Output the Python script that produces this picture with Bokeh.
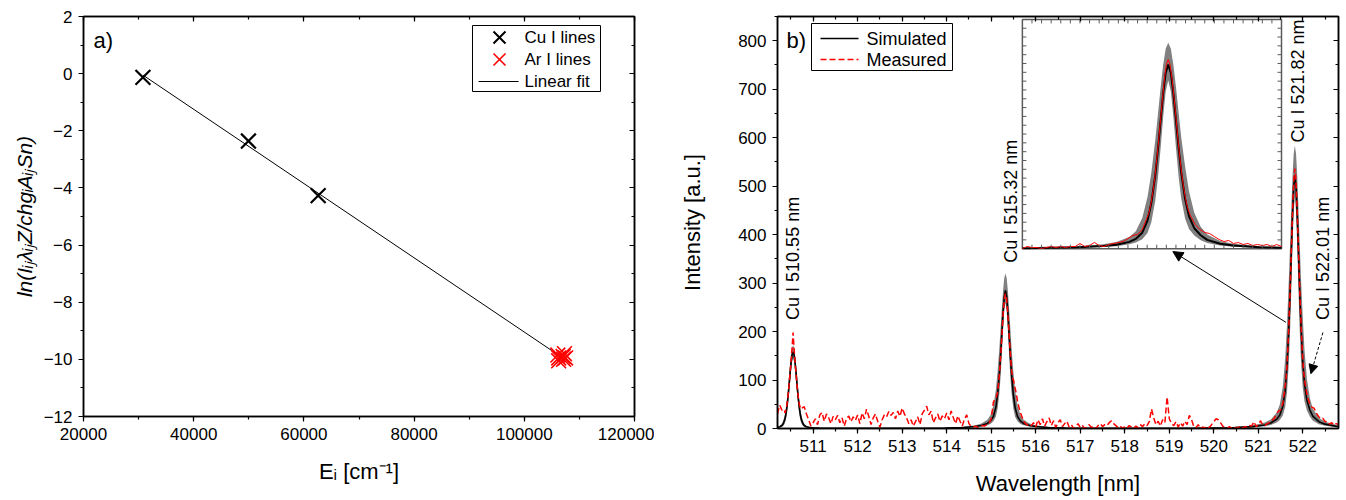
import numpy as np
from bokeh.plotting import figure
from bokeh.models import (Range1d, LinearAxis, SingleIntervalTicker, BasicTickFormatter,
                          Arrow, NormalHead, CustomLabelingPolicy)
from bokeh.layouts import row
from bokeh.core.properties import value
from bokeh.embed import file_html
from bokeh.resources import INLINE

FONT = "Liberation Sans"

# ---------------- panel a) data ----------------
cu_energy = [30784, 49935, 62590]
cu_lnval = [-0.13, -2.36, -4.27]
ar_energy = [106087, 106238, 106238, 107054, 107132, 107290, 107496]
ar_lnval = [-9.85, -9.95, -10.05, -9.90, -10.00, -9.80, -9.95]
legend_a = ["Cu I lines", "Ar I lines", "Linear fit"]

# ---------------- panel b) data ----------------
sim_wl = [510.197, 510.256, 510.315, 510.362, 510.385, 510.409, 510.432, 510.456, 510.479, 510.503,
          510.526, 510.55, 510.574, 510.597, 510.621, 510.644, 510.668, 510.691, 510.715, 510.738,
          510.785, 510.844, 510.903, 510.962, 511.02, 511.14, 511.37, 511.73,
          512.6, 513.4,
          513.967, 514.373, 514.643, 514.779, 514.914, 514.982, 515.049, 515.104, 515.144, 515.185,
          515.212, 515.239, 515.266, 515.293, 515.32, 515.347, 515.374, 515.401, 515.428, 515.455,
          515.496, 515.536, 515.591, 515.658, 515.726, 515.861, 515.997, 516.267, 516.673,
          517.5, 518.5, 519.5, 520.3,
          520.467, 520.873, 521.143, 521.279, 521.414, 521.482, 521.549, 521.604, 521.644, 521.685,
          521.712, 521.739, 521.766, 521.793, 521.82, 521.847, 521.874, 521.901, 521.928, 521.955,
          521.996, 522.036, 522.091, 522.158, 522.226, 522.361, 522.497, 522.767, 523.0, 523.173]
sim_int = [2.4, 3.6, 7.6, 17.9, 27.8, 42.3, 61.6, 85.2, 110.6, 134.3,
           151.5, 158, 151.5, 134.3, 110.6, 85.2, 61.6, 42.3, 27.8, 17.9,
           7.6, 3.6, 2.4, 1.7, 1.4, 0.9, 0.5, 0.2,
           0.2, 0.5,
           1.0, 2.1, 4.0, 6.2, 10.5, 15.1, 24.8, 43.6, 71.0, 114.3,
           152.8, 196.1, 238.8, 272.2, 285, 272.2, 238.8, 196.1, 152.8, 114.3,
           71.0, 43.6, 24.8, 15.1, 10.5, 6.2, 4.0, 2.1, 1.0,
           0.4, 0.3, 0.6, 1.3,
           1.9, 3.8, 7.3, 11.3, 19.3, 27.7, 45.4, 79.9, 130.0, 209.3,
           279.8, 359.1, 437.4, 498.5, 522, 498.5, 438.4, 362.1, 284.8, 216.3,
           140, 92, 58, 38, 25, 14, 9, 4, 2.8, 2]
sim_hi = [3.5, 5.5, 12, 27, 40, 57, 79, 103, 128, 150,
          166, 172, 166, 150, 128, 103, 79, 57, 40, 27,
          12, 5.5, 3.5, 2.5, 2.0, 1.3, 0.7, 0.3,
          0.3, 0.8,
          1.8, 3.5, 6.7, 10.3, 18.0, 27.1, 47.5, 80.2, 118.5, 169.3,
          208.2, 248.2, 284.5, 310.4, 320, 310.4, 284.5, 248.2, 208.2, 169.3,
          118.5, 80.2, 47.5, 27.1, 18.0, 10.3, 6.7, 3.5, 1.8,
          0.7, 0.5, 1.0, 2.2,
          3.2, 6.4, 12.3, 18.8, 32.9, 49.5, 86.7, 146.3, 216.2, 308.9,
          380.0, 453.0, 519.1, 566.5, 584, 566.5, 520, 456, 385, 316,
          232, 163, 102, 62, 40, 22, 14, 7, 4.8, 3.5]
sim_lo = [1.4, 2.0, 4, 10, 17, 28, 45, 67, 92, 117,
          137, 145, 137, 117, 92, 67, 45, 28, 17, 10,
          4, 2.0, 1.4, 1.0, 0.8, 0.5, 0.3, 0.1,
          0.1, 0.2,
          0.7, 1.3, 2.5, 3.9, 6.7, 9.5, 14.7, 24.4, 41.1, 74.3,
          108.9, 153.0, 201.7, 243.0, 260, 243.0, 201.7, 153.0, 108.9, 74.3,
          41.1, 24.4, 14.7, 9.5, 6.7, 3.9, 2.5, 1.3, 0.7,
          0.2, 0.1, 0.3, 0.8,
          1.2, 2.4, 4.6, 7.1, 12.3, 17.4, 26.9, 44.7, 75.5, 136.4,
          199.9, 280.8, 370.0, 445.9, 477, 445.9, 371, 283.5, 204, 142,
          85, 56, 37, 24, 16, 9, 5.8, 2.8, 1.9, 1.4]

meas_wl = [510.20, 510.25, 510.30,
           510.35, 510.37, 510.39, 510.41, 510.43, 510.45, 510.47, 510.49, 510.51, 510.53, 510.55,
           510.57, 510.59, 510.61, 510.63, 510.65, 510.67, 510.69, 510.71, 510.73, 510.75,
           510.80, 510.85, 510.90, 510.95, 511.00, 511.05, 511.10, 511.15, 511.20, 511.25,
           511.30, 511.35, 511.40, 511.45, 511.50, 511.55, 511.60, 511.65, 511.70, 511.75,
           511.80, 511.85, 511.90, 511.95, 512.00, 512.05, 512.10, 512.15, 512.20, 512.25,
           512.30, 512.35, 512.40, 512.45, 512.50, 512.55, 512.60, 512.65, 512.70, 512.75,
           512.80, 512.85, 512.90, 512.95, 513.00, 513.05, 513.10, 513.15, 513.20, 513.25,
           513.30, 513.35, 513.40, 513.45, 513.50, 513.55, 513.60, 513.65, 513.70, 513.75,
           513.80, 513.85, 513.90, 513.95, 514.00, 514.05, 514.10, 514.15, 514.20, 514.25,
           514.30, 514.35, 514.40, 514.45, 514.50, 514.55, 514.60, 514.65, 514.70, 514.75,
           514.80, 514.85, 514.90, 514.95, 515.00, 515.05,
           515.12, 515.14, 515.16, 515.18, 515.20, 515.22, 515.24, 515.26, 515.28, 515.30, 515.32,
           515.34, 515.36, 515.38, 515.40, 515.42, 515.44, 515.46, 515.48, 515.50, 515.52,
           515.55, 515.60, 515.65, 515.70, 515.75, 515.80, 515.85, 515.90, 515.95, 516.00,
           516.05, 516.10, 516.15, 516.20, 516.25, 516.30, 516.35, 516.40, 516.45, 516.50,
           516.55, 516.60, 516.65, 516.70, 516.75, 516.80, 516.85, 516.90, 516.95, 517.00,
           517.05, 517.10, 517.15, 517.20, 517.25, 517.30, 517.35, 517.40, 517.45, 517.50,
           517.55, 517.60, 517.65, 517.70, 517.75, 517.80, 517.85, 517.90, 517.95, 518.00,
           518.05, 518.10, 518.15, 518.20, 518.25, 518.30, 518.35, 518.40, 518.45, 518.50,
           518.55, 518.60, 518.65, 518.70, 518.75, 518.80, 518.85, 518.90, 518.95, 519.00,
           519.05, 519.10, 519.15, 519.20, 519.25, 519.30, 519.35, 519.40, 519.45, 519.50,
           519.55, 519.60, 519.65, 519.70, 519.75, 519.80, 519.85, 519.90, 519.95, 520.00,
           520.05, 520.10, 520.15, 520.20, 520.25, 520.30, 520.35, 520.40, 520.45, 520.50,
           520.55, 520.60, 520.65, 520.70, 520.75, 520.80, 520.85, 520.90, 520.95, 521.00,
           521.05, 521.10, 521.15, 521.20, 521.25, 521.30, 521.35, 521.40, 521.45, 521.50,
           521.55,
           521.62, 521.64, 521.66, 521.68, 521.70, 521.72, 521.74, 521.76, 521.78, 521.80, 521.82,
           521.84, 521.86, 521.88, 521.90, 521.92, 521.94, 521.96, 521.98, 522.00, 522.02,
           522.05, 522.10, 522.15, 522.20, 522.25, 522.30, 522.35, 522.40, 522.45, 522.50,
           522.55, 522.60, 522.65, 522.70, 522.75, 522.80, 522.85, 522.90, 522.95, 523.00]
meas_int = [30, 48, 38,
            40, 32, 38, 48, 62, 80, 101, 122, 145, 170, 198,
            168, 142, 120, 98, 78, 62, 50, 44, 40, 42,
            45, 30, 18, 5, 12, 20, 8, 28, 33, 15,
            30, 22, 10, 25, 18, 27, 12, 22, 5, 20,
            26, 14, 24, 17, 28, 10, 32, 20, 40, 25,
            8, 22, 30, 15, 3, 18, 28, 24, 35, 27,
            33, 20, 36, 25, 42, 30, 22, 10, 18, 5,
            14, 24, 8, 30, 38, 46, 28, 36, 12, 22,
            30, 15, 26, 20, 32, 18, 36, 22, 10, 26,
            15, 5, 20, 28, 10, 4, 3, 5, 2, 4,
            6, 5, 8, 10, 20, 55,
            66, 74, 88, 108, 132, 160, 192, 224, 250, 270, 278,
            272, 252, 226, 196, 166, 140, 118, 104, 100, 90,
            78, 52, 34, 22, 12, 8, 4, 6, 12, 3,
            18, 8, 20, 5, 14, 22, 6, 16, 2, 12,
            18, 4, 10, 15, 3, 8, 0, 5, 10, 2,
            6, 0, 3, 8, 2, 5, 0, 6, 10, 4,
            8, 6, 12, 16, 10, 6, 2, 5, 0, 4,
            1, 6, 3, 0, 5, 2, 8, 4, 10, 6,
            14, 40, 22, 8, 15, 5, 18, 12, 65, 20,
            10, 6, 14, 3, 12, 5, 15, 8, 27, 18,
            4, 2, 8, 0, 3, 1, 5, 2, 8, 14,
            20, 18, 12, 5, 2, 0, 4, 1, 3, 0,
            2, 5, 1, 4, 2, 6, 5, 14, 4, 8,
            16, 7, 6, 10, 12, 16, 20, 28, 36, 38,
            52,
            100, 126, 160, 200, 250, 306, 366, 425, 478, 520, 536,
            518, 478, 428, 370, 312, 258, 212, 172, 140, 115,
            92, 66, 52, 44, 42, 32, 25, 20, 21, 14,
            15, 9, 12, 7, 10, 8, 9, 5, 11, 6]

line_names = ["Cu I 510.55 nm", "Cu I 515.32 nm", "Cu I 521.82 nm", "Cu I 522.01 nm"]
legend_b = ["Simulated", "Measured"]

# ---------------- layout / style constants ----------------
A_X = (20000, 120000)
A_Y = (-12, 2)
A_FRAME = (83, 16, 551, 400)      # left, top, width, height in px
B_X = (510.2, 522.8)
B_Y = (0, 850)
B_FRAME = (777, 16, 561, 412)
label_x = [510.55, 515.44, 521.89, 522.46]
label_y = [224, 342, 590, 224]
INSET_SRC_X = (520.3, 523.0)
INSET_SRC_Y = (0, 650)
INSET_BOX_X = (515.70, 521.52)
INSET_BOX_Y = (371.0, 844.0)

HIDE_ALL = CustomLabelingPolicy(code="""
const out = []
for (const i of indices) out.push(i)
for (const i of out) indices.unset(i)
return indices
""")


def px2data(frame, xr, yr):
    l, t, w, h = frame
    def f(px, py):
        return (xr[0] + (px - l) / w * (xr[1] - xr[0]),
                yr[1] - (py - t) / h * (yr[1] - yr[0]))
    return f


def style_main_axes(p):
    for ax in (p.xaxis[0], p.yaxis[0]):
        ax.axis_line_width = 1.5
        ax.major_tick_out = 5
        ax.major_tick_in = 0
        ax.minor_tick_out = 3
        ax.minor_tick_in = 0
        ax.major_tick_line_width = 1.2
        ax.minor_tick_line_width = 1.2
        ax.major_label_text_font = FONT
        ax.major_label_text_font_size = "17px"
        ax.major_label_text_color = "black"
        ax.major_label_standoff = 6
        ax.axis_label_text_font = FONT
        ax.axis_label_text_font_size = "22px"
        ax.axis_label_text_font_style = "normal"
        ax.axis_label_text_color = "black"


def add_mirror_axes(p, xt, yt):
    for loc, tk in (("above", xt), ("right", yt)):
        ax = LinearAxis(ticker=tk, major_label_text_font_size="0px", major_label_standoff=0,
                        major_label_policy=HIDE_ALL,
                        major_tick_in=5, major_tick_out=0, minor_tick_in=3, minor_tick_out=0,
                        axis_line_width=1.5, major_tick_line_width=1.2, minor_tick_line_width=1.2)
        p.add_layout(ax, loc)


def new_fig(frame, xr, yr, total_w_left, total_w_right, height=500):
    l, t, w, h = frame
    return figure(x_range=Range1d(*xr), y_range=Range1d(*yr),
                  frame_width=w, frame_height=h,
                  min_border_left=total_w_left, min_border_right=total_w_right,
                  min_border_top=t, min_border_bottom=height - t - h,
                  toolbar_location=None, output_backend="svg")


# ================= panel a =================
p1 = new_fig(A_FRAME, A_X, A_Y, 83, 20)
p1.xgrid.visible = False
p1.ygrid.visible = False
p1.outline_line_color = "black"
p1.outline_line_width = 1.5
xt1 = SingleIntervalTicker(interval=20000, num_minor_ticks=2)
yt1 = SingleIntervalTicker(interval=2, num_minor_ticks=2)
p1.xaxis.ticker = xt1
p1.yaxis.ticker = yt1
p1.xaxis.formatter = BasicTickFormatter(use_scientific=False)
style_main_axes(p1)
p1.xaxis.axis_label = "Eᵢ [cm⁻¹]"
p1.yaxis.axis_label = "ln(IᵢⱼλᵢⱼZ/chgᵢAᵢⱼSn)"
p1.yaxis.axis_label_text_font_style = "italic"
p1.yaxis.axis_label_text_font_size = "21px"
p1.xaxis.axis_label_standoff = 16
p1.yaxis.axis_label_standoff = 5
add_mirror_axes(p1, xt1, yt1)

all_e = np.array(cu_energy + ar_energy, dtype=float)
all_v = np.array(cu_lnval + ar_lnval, dtype=float)
slope, icpt = np.polyfit(all_e, all_v, 1)
fit_x = np.array([all_e.min(), all_e.max()])
p1.line(fit_x, slope * fit_x + icpt, line_color="black", line_width=1)
p1.scatter(cu_energy, cu_lnval, marker="x", size=21, line_color="black", line_width=2.2)
p1.scatter(ar_energy, ar_lnval, marker="x", size=21, line_color="red", line_width=1.6)

fa = px2data(A_FRAME, A_X, A_Y)
ax0, ay0 = fa(93, 27)
p1.text(x=[ax0], y=[ay0], text=["a)"], text_font=value(FONT), text_font_size="22px",
        text_baseline="top", text_align="left", text_color="black")

# legend a (drawn by hand so the markers keep their size)
(bl, bt), (br, bb) = fa(472, 25), fa(600, 91)
p1.quad(left=[bl], right=[br], top=[bt], bottom=[bb], fill_color="white", line_color="black", line_width=1)
rows_a = [fa(499, py) for py in (37, 59, 81)]
p1.scatter([rows_a[0][0]], [rows_a[0][1]], marker="x", size=17, line_color="black", line_width=2)
p1.scatter([rows_a[1][0]], [rows_a[1][1]], marker="x", size=17, line_color="red", line_width=1.6)
(lx0, ly0), (lx1, _) = fa(478, 81), fa(518, 81)
p1.segment(x0=[lx0], y0=[ly0], x1=[lx1], y1=[ly0], line_color="black", line_width=1.2)
tx_a = fa(524, 0)[0]
p1.text(x=[tx_a] * 3, y=[r[1] for r in rows_a], text=legend_a, text_font=value(FONT),
        text_font_size="17px", text_baseline="middle", text_align="left", text_color="black")

# ================= panel b =================
p2 = new_fig(B_FRAME, B_X, B_Y, 123, 8)
p2.xgrid.visible = False
p2.ygrid.visible = False
p2.outline_line_color = "black"
p2.outline_line_width = 1.5
xt2 = SingleIntervalTicker(interval=1, num_minor_ticks=2)
yt2 = SingleIntervalTicker(interval=100, num_minor_ticks=2)
p2.xaxis.ticker = xt2
p2.yaxis.ticker = yt2
style_main_axes(p2)
p2.xaxis.axis_label = "Wavelength [nm]"
p2.yaxis.axis_label = "Intensity [a.u.]"
p2.xaxis.axis_label_standoff = 16
p2.yaxis.axis_label_standoff = 30
add_mirror_axes(p2, xt2, yt2)

p2.varea(x=sim_wl, y1=sim_lo, y2=sim_hi, fill_color="#808080")
p2.line(sim_wl, sim_int, line_color="black", line_width=1.6)
p2.line(meas_wl, meas_int, line_color="red", line_width=1.5, line_dash="6 3")

# ---- inset (zoom of the 521.82 nm line) ----
inset = p2.subplot(x_source=Range1d(*INSET_SRC_X), y_source=Range1d(*INSET_SRC_Y),
                   x_target=Range1d(*INSET_BOX_X), y_target=Range1d(*INSET_BOX_Y))
inset.quad(left=[INSET_SRC_X[0]], right=[INSET_SRC_X[1]], bottom=[INSET_SRC_Y[0]], top=[INSET_SRC_Y[1]],
           fill_color="white", line_color="#5a5a5a", line_width=1.5)
sw = np.array(sim_wl)
ms = (sw >= INSET_SRC_X[0]) & (sw <= INSET_SRC_X[1])
mw = np.array(meas_wl)
mm = (mw >= INSET_SRC_X[0]) & (mw <= INSET_SRC_X[1])
inset.varea(x=sw[ms], y1=np.array(sim_lo)[ms], y2=np.array(sim_hi)[ms], fill_color="#808080")
inset.line(sw[ms], np.array(sim_int)[ms], line_color="black", line_width=2)
inset.line(mw[mm], np.array(meas_int)[mm], line_color="red", line_width=1)
tx = np.arange(INSET_SRC_X[0] + 0.1, INSET_SRC_X[1] - 1e-6, 0.1)
ty = np.arange(INSET_SRC_Y[0] + 25, INSET_SRC_Y[1] - 1e-6, 25)
dx = (INSET_SRC_X[1] - INSET_SRC_X[0]) * 4 / 259
dy = (INSET_SRC_Y[1] - INSET_SRC_Y[0]) * 4 / 229
tick_kw = dict(line_color="#5a5a5a", line_width=1)
inset.segment(x0=tx, y0=np.full_like(tx, INSET_SRC_Y[0]), x1=tx, y1=np.full_like(tx, INSET_SRC_Y[0] + dy), **tick_kw)
inset.segment(x0=tx, y0=np.full_like(tx, INSET_SRC_Y[1]), x1=tx, y1=np.full_like(tx, INSET_SRC_Y[1] - dy), **tick_kw)
inset.segment(x0=np.full_like(ty, INSET_SRC_X[0]), y0=ty, x1=np.full_like(ty, INSET_SRC_X[0] + dx), y1=ty, **tick_kw)
inset.segment(x0=np.full_like(ty, INSET_SRC_X[1]), y0=ty, x1=np.full_like(ty, INSET_SRC_X[1] - dx), y1=ty, **tick_kw)

# ---- line labels ----
p2.text(x=label_x, y=label_y, text=line_names, angle=np.pi / 2, text_align="left",
        text_baseline="middle", text_font=value(FONT), text_font_size="18px", text_color="black")
fb = px2data(B_FRAME, B_X, B_Y)
bx0, by0 = fb(786, 27)
p2.text(x=[bx0], y=[by0], text=["b)"], text_font=value(FONT), text_font_size="22px",
        text_baseline="top", text_align="left", text_color="black")

# ---- arrows ----
p2.add_layout(Arrow(end=NormalHead(size=10, fill_color="black", line_color="black"),
                    x_start=521.62, y_start=219, x_end=519.08, y_end=365,
                    line_color="black", line_width=1))
p2.add_layout(Arrow(end=NormalHead(size=9, fill_color="black", line_color="black"),
                    x_start=522.45, y_start=198, x_end=522.18, y_end=113,
                    line_color="black", line_width=1, line_dash="3 2"))

# legend b (drawn by hand, matching the reference box)
(cl, ct), (cr, cb) = fb(811, 23), fb(952, 70)
p2.quad(left=[cl], right=[cr], top=[ct], bottom=[cb], fill_color="white", line_color="black", line_width=1)
(sx0, sy0), (sx1, _) = fb(820, 38), fb(858, 38)
(mx0, my0), (mx1, _) = fb(820, 59), fb(858, 59)
p2.segment(x0=[sx0], y0=[sy0], x1=[sx1], y1=[sy0], line_color="black", line_width=1.5)
p2.segment(x0=[mx0], y0=[my0], x1=[mx1], y1=[my0], line_color="red", line_width=1.5, line_dash="6 3")
tx_b = fb(866, 0)[0]
p2.text(x=[tx_b] * 2, y=[sy0, my0], text=legend_b, text_font=value(FONT),
        text_font_size="18px", text_baseline="middle", text_align="left", text_color="black")

layout = row(p1, p2)
open("out.html", "w").write(file_html(layout, INLINE))
